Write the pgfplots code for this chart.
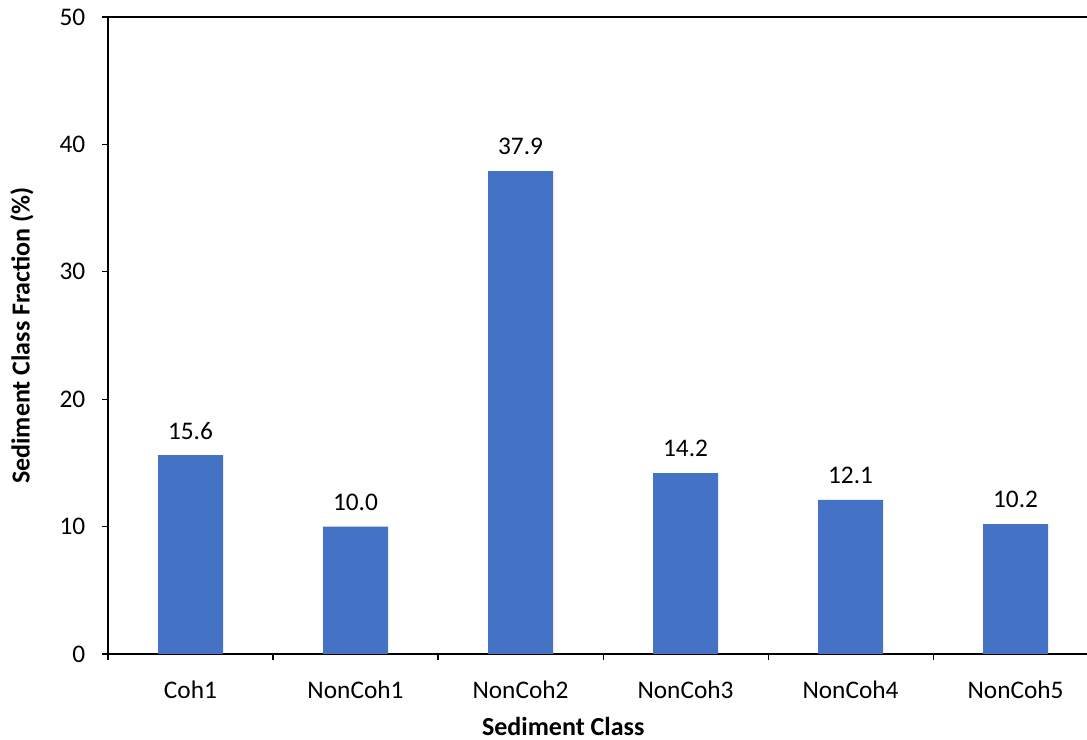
\documentclass[border=0pt]{standalone}
\usepackage{fontspec}
\setmainfont{Carlito}
\usepackage{pgfplots}
\pgfplotsset{compat=1.18}
\definecolor{barblue}{HTML}{4472C4}
\begin{document}
\begin{tikzpicture}
\begin{axis}[
    scale only axis,
    width=734.25pt, height=477.75pt,
    xmin=-0.5, xmax=5.433,
    ymin=0, ymax=50,
    axis x line=box, axis y line*=left,
    xtick pos=bottom, ytick pos=left,
    tick align=outside,
    ytick={0,10,...,50},
    xtick={0,...,5},
    xticklabels={Coh1,NonCoh1,NonCoh2,NonCoh3,NonCoh4,NonCoh5},
    minor xtick={-0.5,0.5,...,5.5},
    major x tick style={draw=none},
    major tick length=4.5pt, minor tick length=4.5pt,
    tick style={black, line width=0.8pt},
    axis line style={black, line width=0.9pt},
    /pgf/number format/assume math mode=true,
    ticklabel style={font=\fontsize{19}{22}\selectfont},
    yticklabel style={xshift=-9pt},
    xticklabel style={yshift=-12pt},
    xlabel={\textbf{Sediment Class}},
    ylabel={\textbf{Sediment Class Fraction (\%)}},
    label style={font=\fontsize{19.5}{22}\selectfont},
    xlabel style={at={(axis description cs:0.465,-0.114)}, anchor=center, inner sep=0pt},
    ylabel style={at={(axis description cs:-0.0878,0.5)}, anchor=center},
    ybar, bar width=48.75pt,
    nodes near coords,
    nodes near coords style={font=\fontsize{19}{22}\selectfont, black, yshift=8.5pt,
        /pgf/number format/.cd, fixed, fixed zerofill, precision=1},
]
\addplot[fill=barblue, draw=none] coordinates {
    (0,15.6) (1,10.0) (2,37.9) (3,14.2) (4,12.1) (5,10.2)
};
\end{axis}
\pgfresetboundingbox
\path[use as bounding box] ([xshift=-81pt,yshift=-64.5pt]current axis.south west)
    rectangle ([yshift=12.75pt]current axis.north east);
\end{tikzpicture}
\end{document}
